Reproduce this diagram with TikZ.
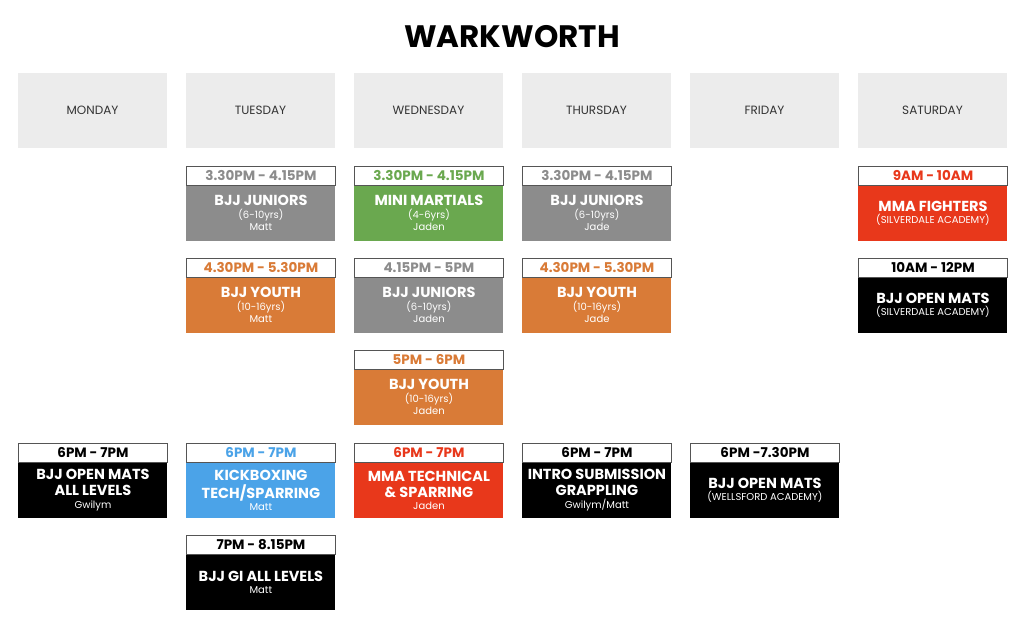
\documentclass[tikz,border=0pt]{standalone}
\usepackage{fontspec}
\setmainfont{Poppins}
\usetikzlibrary{positioning}
\definecolor{dayfill}{HTML}{ECECEC}
\definecolor{daytext}{HTML}{333333}
\definecolor{boxline}{HTML}{555555}
\definecolor{jrgray}{HTML}{8C8C8C}
\definecolor{minigreen}{HTML}{6AA84F}
\definecolor{youthorange}{HTML}{D97B37}
\definecolor{mmared}{HTML}{E8381B}
\definecolor{kbblue}{HTML}{4BA3E8}
\newcommand{\sessname}[1]{{\fontsize{14.5}{15}\selectfont\bfseries #1}}
\newcommand{\sesstime}{\fontsize{13.5}{16}\selectfont\bfseries}
\newcommand{\sesssub}{\fontsize{10}{12.5}\selectfont}
\tikzset{
	daybox/.style={fill=dayfill, minimum width=149pt, minimum height=74.5pt, inner sep=0pt, text=daytext, font=\fontsize{12}{13}\selectfont},
	timebox/.style={draw=boxline, line width=0.9pt, fill=white, minimum width=149pt, minimum height=18.5pt, inner sep=0pt, anchor=north west, text=#1, font=\sesstime},
	classbox/.style={fill=#1, minimum width=149pt, minimum height=55.5pt, inner sep=0pt, text=white, align=center, font=\sesssub},
}

\begin{document}
\begin{tikzpicture}[x=1pt, y=-1pt]
		\useasboundingbox [fill=white] (0,0) rectangle (1024,630);
		\node [font=\fontsize{31}{33}\selectfont\bfseries] (title) at (512,36.5) {WARKWORTH};
		\foreach \name/\day [count=\i from 0] in {mon/MONDAY, tue/TUESDAY, wed/WEDNESDAY, thu/THURSDAY, fri/FRIDAY, sat/SATURDAY}{
			\node [daybox] (\name) at (92.5+168*\i,110.5) {\day};
		}
		% monday
		\node [timebox=black] (monD) at (18,443) {6PM - 7PM};
		\node [classbox=black, below=0pt of monD] (monDbody) {\sessname{BJJ OPEN MATS}\\[3.5pt] \sessname{ALL LEVELS}\\ Gwilym};
		% tuesday
		\node [timebox=jrgray] (tueA) at (186,166) {3.30PM - 4.15PM};
		\node [classbox=jrgray, below=0pt of tueA] (tueAbody) {\sessname{BJJ JUNIORS}\\ (6-10yrs)\\ Matt};
		\node [timebox=youthorange] (tueB) at (186,258) {4.30PM - 5.30PM};
		\node [classbox=youthorange, below=0pt of tueB] (tueBbody) {\sessname{BJJ YOUTH}\\ (10-16yrs)\\ Matt};
		\node [timebox=kbblue] (tueD) at (186,443) {6PM - 7PM};
		\node [classbox=kbblue, below=0pt of tueD] (tueDbody) {\sessname{KICKBOXING}\\[3.5pt] \sessname{TECH/SPARRING}\\ Matt};
		\node [timebox=black] (tueE) at (186,535) {7PM - 8.15PM};
		\node [classbox=black, below=0pt of tueE] (tueEbody) {\sessname{BJJ GI ALL LEVELS}\\ Matt};
		% wednesday
		\node [timebox=minigreen] (wedA) at (354,166) {3.30PM - 4.15PM};
		\node [classbox=minigreen, below=0pt of wedA] (wedAbody) {\sessname{MINI MARTIALS}\\ (4-6yrs)\\ Jaden};
		\node [timebox=jrgray] (wedB) at (354,258) {4.15PM - 5PM};
		\node [classbox=jrgray, below=0pt of wedB] (wedBbody) {\sessname{BJJ JUNIORS}\\ (6-10yrs)\\ Jaden};
		\node [timebox=youthorange] (wedC) at (354,350) {5PM - 6PM};
		\node [classbox=youthorange, below=0pt of wedC] (wedCbody) {\sessname{BJJ YOUTH}\\ (10-16yrs)\\ Jaden};
		\node [timebox=mmared] (wedD) at (354,443) {6PM - 7PM};
		\node [classbox=mmared, below=0pt of wedD] (wedDbody) {\sessname{MMA TECHNICAL}\\[3.5pt] \sessname{\& SPARRING}\\ Jaden};
		% thursday
		\node [timebox=jrgray] (thuA) at (522,166) {3.30PM - 4.15PM};
		\node [classbox=jrgray, below=0pt of thuA] (thuAbody) {\sessname{BJJ JUNIORS}\\ (6-10yrs)\\ Jade};
		\node [timebox=youthorange] (thuB) at (522,258) {4.30PM - 5.30PM};
		\node [classbox=youthorange, below=0pt of thuB] (thuBbody) {\sessname{BJJ YOUTH}\\ (10-16yrs)\\ Jade};
		\node [timebox=black] (thuD) at (522,443) {6PM - 7PM};
		\node [classbox=black, below=0pt of thuD] (thuDbody) {\sessname{INTRO SUBMISSION}\\[3.5pt] \sessname{GRAPPLING}\\ Gwilym/Matt};
		% friday
		\node [timebox=black] (friD) at (690,443) {6PM -7.30PM};
		\node [classbox=black, below=0pt of friD] (friDbody) {\sessname{BJJ OPEN MATS}\\[-1pt] (WELLSFORD ACADEMY)};
		% saturday
		\node [timebox=mmared] (satA) at (858,166) {9AM - 10AM};
		\node [classbox=mmared, below=0pt of satA] (satAbody) {\sessname{MMA FIGHTERS}\\[-1pt] (SILVERDALE ACADEMY)};
		\node [timebox=black] (satB) at (858,258) {10AM - 12PM};
		\node [classbox=black, below=0pt of satB] (satBbody) {\sessname{BJJ OPEN MATS}\\[-1pt] (SILVERDALE ACADEMY)};
	\end{tikzpicture}
\end{document}
